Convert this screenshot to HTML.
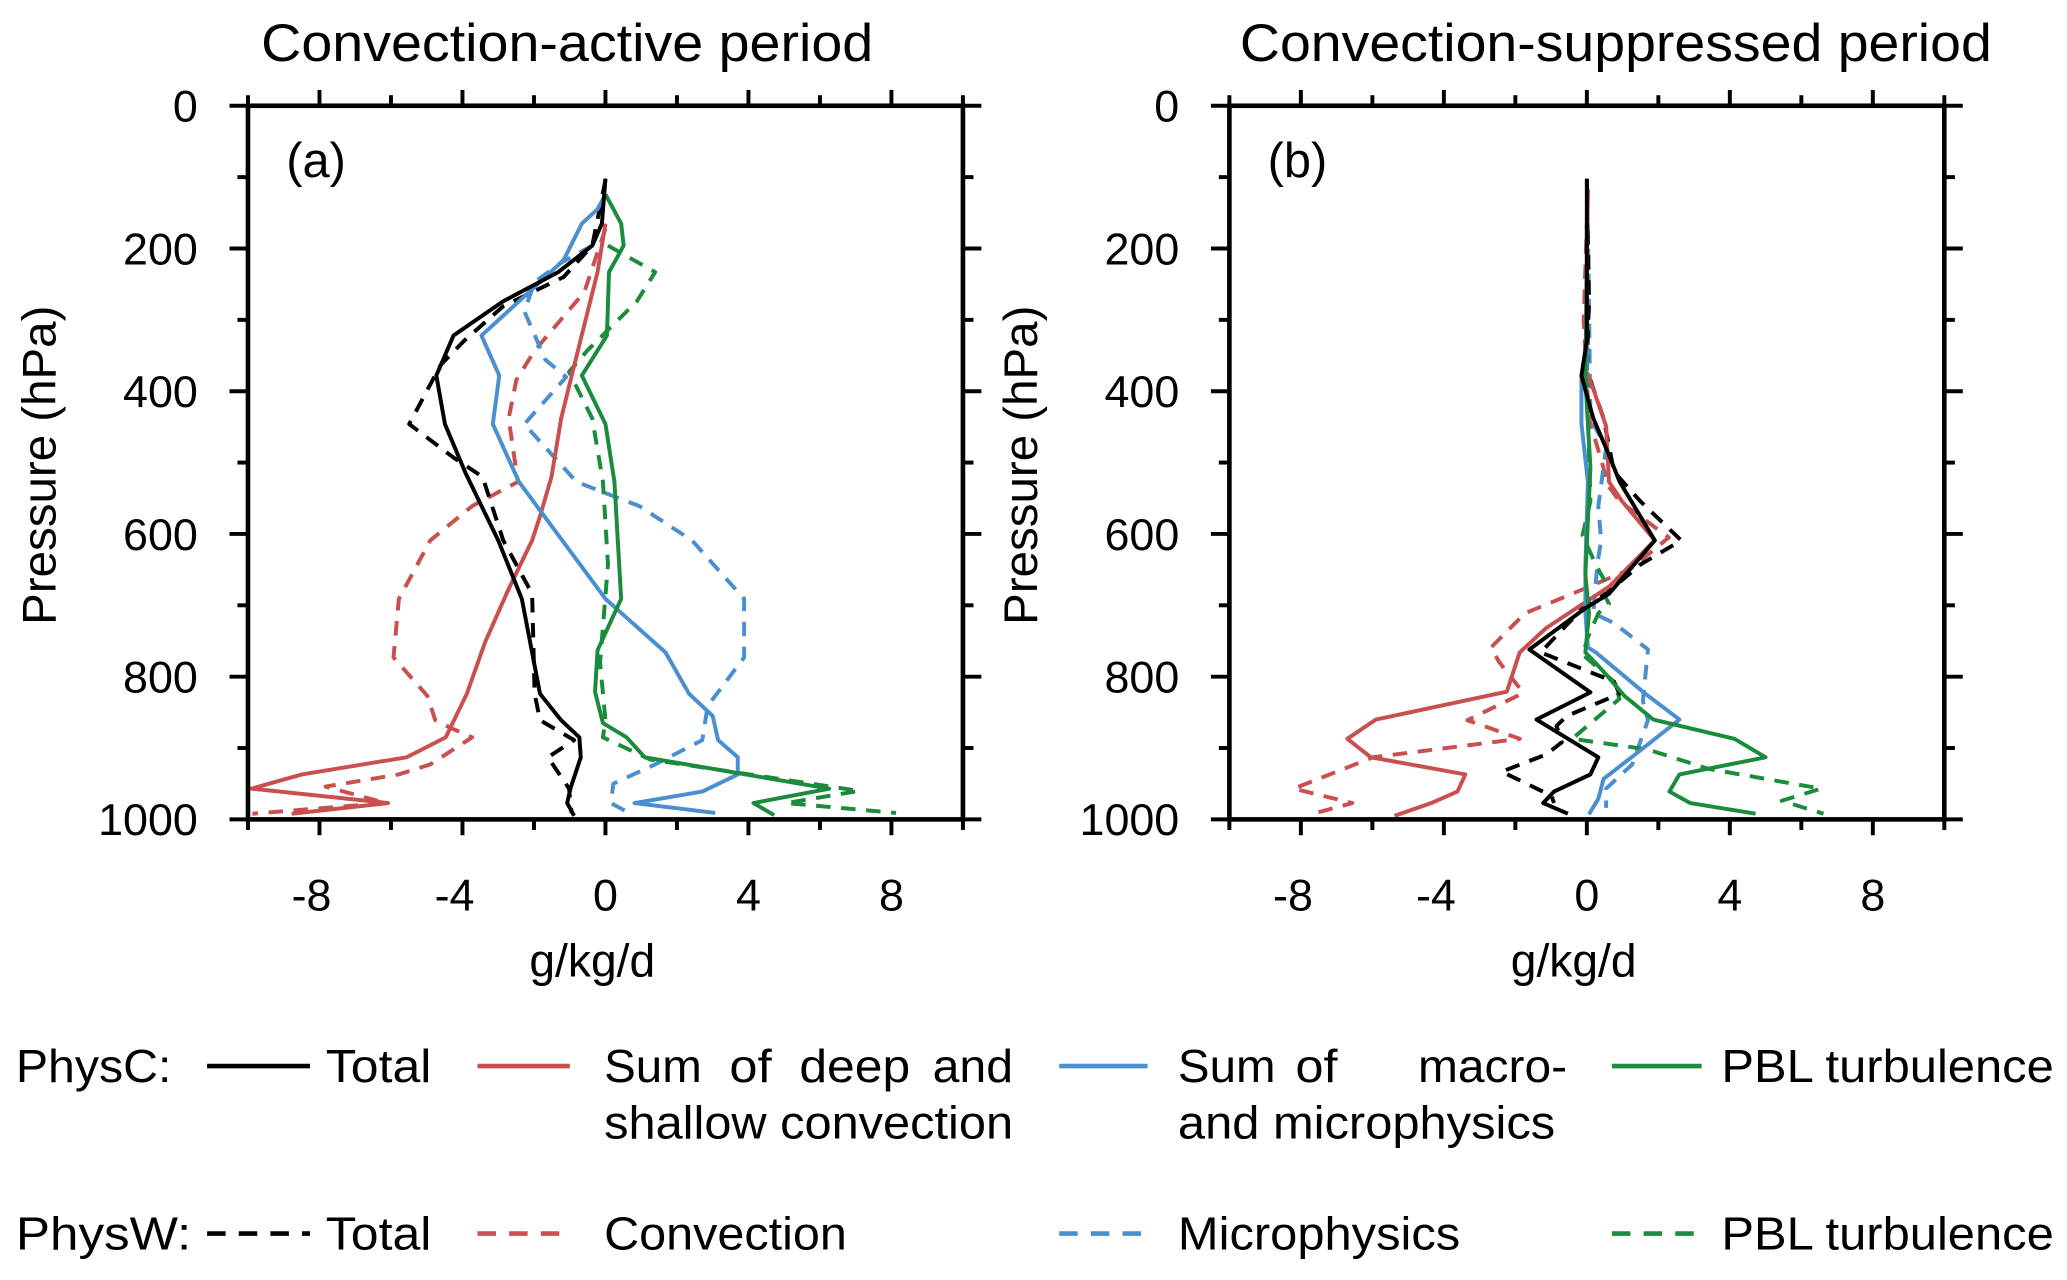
<!DOCTYPE html>
<html><head><meta charset="utf-8"><style>
html,body{margin:0;padding:0;background:#fff}
svg{display:block}
text{font-family:"Liberation Sans",sans-serif;fill:#000}
</style></head><body>
<svg id="fig" width="2067" height="1280" viewBox="0 0 1567 970" xmlns="http://www.w3.org/2000/svg">
<g id="pa"></g>
<g id="pb"></g>
<g id="legend">
 <text x="12" y="820" font-size="35" textLength="118" lengthAdjust="spacingAndGlyphs">PhysC:</text>
 <line x1="157" y1="808" x2="235" y2="808" stroke="#000" stroke-width="3.5"/>
 <text x="247" y="820" font-size="35" textLength="80" lengthAdjust="spacingAndGlyphs">Total</text>
 <line x1="362" y1="808" x2="432" y2="808" stroke="#c9504f" stroke-width="3.5"/>
 <g font-size="35">
  <text x="458" y="820" textLength="74" lengthAdjust="spacingAndGlyphs">Sum</text>
  <text x="553" y="820" textLength="32" lengthAdjust="spacingAndGlyphs">of</text>
  <text x="606" y="820" textLength="84" lengthAdjust="spacingAndGlyphs">deep</text>
  <text x="707" y="820" textLength="61" lengthAdjust="spacingAndGlyphs">and</text>
 </g>
 <text x="458" y="863" font-size="35" textLength="310" lengthAdjust="spacingAndGlyphs">shallow convection</text>
 <line x1="803" y1="808" x2="870" y2="808" stroke="#4a8fd0" stroke-width="3.5"/>
 <g font-size="35">
  <text x="893" y="820" textLength="74" lengthAdjust="spacingAndGlyphs">Sum</text>
  <text x="982" y="820" textLength="32" lengthAdjust="spacingAndGlyphs">of</text>
  <text x="1075" y="820" textLength="113" lengthAdjust="spacingAndGlyphs">macro-</text>
 </g>
 <text x="893" y="863" font-size="35" textLength="286" lengthAdjust="spacingAndGlyphs">and microphysics</text>
 <line x1="1222" y1="808" x2="1290" y2="808" stroke="#1a8c3c" stroke-width="3.5"/>
 <text x="1305" y="820" font-size="35" textLength="252" lengthAdjust="spacingAndGlyphs">PBL turbulence</text>

 <text x="12" y="947" font-size="35" textLength="133" lengthAdjust="spacingAndGlyphs">PhysW:</text>
 <line x1="157" y1="935" x2="235" y2="935" stroke="#000" stroke-width="3.5" stroke-dasharray="14,10"/>
 <text x="247" y="947" font-size="35" textLength="80" lengthAdjust="spacingAndGlyphs">Total</text>
 <line x1="362" y1="935" x2="432" y2="935" stroke="#c9504f" stroke-width="3.5" stroke-dasharray="14,10"/>
 <text x="458" y="947" font-size="35" textLength="184" lengthAdjust="spacingAndGlyphs">Convection</text>
 <line x1="803" y1="935" x2="870" y2="935" stroke="#4a8fd0" stroke-width="3.5" stroke-dasharray="14,10"/>
 <text x="893" y="947" font-size="35" textLength="214" lengthAdjust="spacingAndGlyphs">Microphysics</text>
 <line x1="1222" y1="935" x2="1290" y2="935" stroke="#1a8c3c" stroke-width="3.5" stroke-dasharray="14,10"/>
 <text x="1305" y="947" font-size="35" textLength="252" lengthAdjust="spacingAndGlyphs">PBL turbulence</text>
</g>
</svg>
<script>
const xTicks = [-8, -4, 0, 4, 8];
const yTicks = [0, 200, 400, 600, 800, 1000];
// Panel a
const aTotC_p = [102,165,196,233,274,322,378,446,515,609,691,824,861,885,913,957,977,995];
const aTotC_v = [0,-0.1,-0.37,-1.32,-2.86,-4.25,-4.73,-4.49,-3.91,-3.0,-2.34,-1.83,-1.24,-0.73,-0.69,-0.98,-1.07,-0.88];
const aTotW_p = [104,196,240,281,329,363,446,493,520,609,684,824,861,889,913,957,991];
const aTotW_v = [0,-0.37,-1.17,-2.86,-3.95,-4.61,-5.49,-4.25,-3.44,-2.86,-2.05,-1.98,-1.83,-0.88,-1.61,-1.02,-0.95];
const aConvC_p = [165,233,315,438,520,575,609,677,752,824,885,913,937,957,977,992];
const aConvC_v = [0,-0.22,-0.63,-1.24,-1.51,-1.83,-2.05,-2.71,-3.37,-3.88,-4.47,-5.56,-8.49,-9.9,-6.08,-8.78];
const aConvW_p = [172,261,343,384,438,527,561,609,691,773,827,861,872,885,923,937,954,977,992];
const aConvW_v = [0,-0.59,-1.98,-2.49,-2.71,-2.45,-3.73,-4.9,-5.78,-5.93,-4.98,-4.76,-4.32,-3.73,-4.9,-5.78,-7.83,-6.15,-9.88];
const aMicC_p = [124,145,165,216,254,322,378,446,527,691,766,824,855,889,913,937,961,977,991];
const aMicC_v = [0,-0.22,-0.66,-1.17,-1.98,-3.47,-2.97,-3.15,-2.42,0,1.68,2.34,3.0,3.15,3.7,3.7,2.71,0.81,3.07];
const aMicW_p = [196,220,247,288,356,380,446,527,561,609,691,773,841,889,923,950,977,991];
const aMicW_v = [-0.37,-1.24,-1.98,-2.27,-1.68,-1.1,-2.27,-0.81,0.95,2.42,3.88,3.88,2.86,2.71,1.39,0.22,0.15,0.66];
const aPblC_p = [124,165,196,233,322,378,446,527,691,763,821,865,885,913,957,977,994];
const aPblC_v = [0,0.44,0.51,0.1,0.04,-0.66,0,0.25,0.44,-0.22,-0.29,-0.07,0.59,1.1,6.26,4.14,4.72];
const aPblW_p = [196,233,274,343,373,438,527,643,780,861,885,916,960,977,991];
const aPblW_v = [0.07,1.39,0.88,-0.51,-1.02,-0.37,-0.07,0.07,-0.15,0,-0.07,1.25,7.1,5.05,8.13];
// Panel b
const bTotC_p = [102,233,329,378,438,486,527,609,684,704,762,822,860,913,937,961,977,992];
const bTotC_v = [0,0,0,-0.15,0.18,0.59,0.92,1.9,0.62,-0.04,-1.61,0.1,-1.41,0.32,0.1,-0.92,-1.22,-0.53];
const bTotW_p = [104,268,370,438,513,554,609,643,684,704,766,807,824,855,869,892,909,933,967,977];
const bTotW_v = [0,0.06,0,0.47,0.76,1.49,2.64,1.49,0.54,-0.12,-1.29,0.76,0.91,-0.56,-0.85,-0.7,-1.14,-2.38,-0.99,-0.92];
const bConvC_p = [117,370,397,449,527,554,609,674,732,766,821,860,887,913,937,961,977,995];
const bConvC_v = [0.03,-0.04,0.18,0.54,0.62,0.98,1.9,0.62,-1.14,-1.88,-2.24,-5.9,-6.7,-6.04,-3.4,-3.62,-4.35,-5.38];
const bConvW_p = [117,302,438,534,554,605,650,684,711,759,779,821,827,861,887,913,957,977,992];
const bConvW_v = [0.03,-0.09,0.06,0.62,0.91,2.29,1.19,-0.41,-1.73,-2.68,-2.46,-1.8,-1.95,-3.34,-1.88,-5.98,-8.2,-6.56,-7.66];
const bMicC_p = [165,370,378,446,527,643,711,759,766,824,860,909,943,971,993];
const bMicC_v = [0,0,-0.15,-0.15,0.03,-0.04,-0.04,0.03,0.25,1.64,2.59,1.35,0.47,0.32,0.06];
const bMicW_p = [165,438,479,561,609,643,711,725,762,834,861,923,957,984];
const bMicW_v = [0.03,0.1,0.54,0.32,0.4,0.29,0.18,0.76,1.71,1.57,1.71,1.27,0.54,0.54];
const bPblC_p = [233,384,507,657,711,766,793,827,860,887,913,937,961,977,992];
const bPblC_v = [0,-0.04,0.1,-0.04,0.06,-0.04,0.47,1.05,1.86,4.13,5.0,2.59,2.31,2.89,4.72];
const bPblW_p = [233,438,554,602,643,663,677,698,711,745,769,807,831,887,902,929,957,974,992];
const bPblW_v = [0,0.03,0.1,-0.12,0.25,0.47,0.4,0.62,0.32,0.03,-0.12,0.76,0.91,-0.41,1.71,3.39,6.55,5.45,6.62];

const NS = 'http://www.w3.org/2000/svg';
const COL = {tot:'#000', conv:'#c9504f', mic:'#4a8fd0', pbl:'#1a8c3c'};
function mk(parent, tag, attrs){ const e=document.createElementNS(NS,tag); for(const k in attrs) e.setAttribute(k,attrs[k]); parent.appendChild(e); return e; }

function panel(g, left, title, titleX, titleW, label, series){
  const right = left + 542, top = 80, bottom = 621;
  const xs = v => left + (v + 10) / 20 * (right - left);
  const ys = p => top + p / 1000 * (bottom - top);
  const t = mk(g,'text',{x:titleX, y:46, 'font-size':40, 'text-anchor':'middle', textLength:titleW, lengthAdjust:'spacingAndGlyphs'});
  t.textContent = title;
  
  
  const lb = mk(g,'text',{x:left+29, y:top+54, 'font-size':37});
  lb.textContent = label;
  
  
  series.forEach(s=>{
    const pts = s.p.map((p,i)=>xs(s.v[i]).toFixed(1)+','+ys(p).toFixed(1)).join(' ');
    const pl = mk(g,'polyline',{points:pts, fill:'none', stroke:COL[s.c], 'stroke-width':3, 'stroke-linejoin':'round'});
    if(s.d) pl.setAttribute('stroke-dasharray','11,8');
    
    
  });
  const fr = mk(g,'rect',{x:left,y:top,width:right-left,height:bottom-top,fill:'none',stroke:'#000','stroke-width':3.5});
  
  
  for(let v=-10; v<=10; v+=2){
    const x = xs(v);
    const isMaj = (v===-8||v===-4||v===0||v===4||v===8);
    const len = isMaj ? 12 : 8;
    const tk = mk(g,'line',{x1:x,y1:top-len,x2:x,y2:top,stroke:'#000','stroke-width':3});
    
    
    const tb = mk(g,'line',{x1:x,y1:bottom,x2:x,y2:bottom+len,stroke:'#000','stroke-width':3});
    
    
  }
  xTicks.forEach(v=>{
    const tl = mk(g,'text',{x:xs(v)-(v<0?6:0), y:690, 'font-size':34, 'text-anchor':'middle'});
    tl.textContent = String(v);
    
    
  });
  const xt = mk(g,'text',{x:(left+right)/2-10, y:740, 'font-size':35, 'text-anchor':'middle'});
  xt.textContent = 'g/kg/d';
  
  
  for(let p=0; p<=1000; p+=100){
    const y = ys(p);
    const isMaj = p % 200 === 0;
    const a = mk(g,'line',{x1:left-(isMaj?14:8),y1:y,x2:left,y2:y,stroke:'#000','stroke-width':3});
    
    
    const b = mk(g,'line',{x1:right,y1:y,x2:right+(isMaj?14:8),y2:y,stroke:'#000','stroke-width':3});
    
    
  }
  yTicks.forEach(p=>{
    const tl = mk(g,'text',{x:left-38, y:ys(p)+12, 'font-size':34, 'text-anchor':'end'});
    tl.textContent = String(p);
    
    
  });
  const yt = mk(g,'text',{x:0,y:0,'font-size':36,'text-anchor':'middle',transform:`translate(${left-146},${(top+bottom)/2+2}) rotate(-90)`});
  yt.textContent = 'Pressure (hPa)';
  
  
}

panel(document.getElementById('pa'), 188, 'Convection-active period', 430, 464, '(a)', [
  {p:aConvW_p,v:aConvW_v,c:'conv',d:1,name:'a-physw-convection'},
  {p:aMicW_p,v:aMicW_v,c:'mic',d:1,name:'a-physw-microphysics'},
  {p:aPblW_p,v:aPblW_v,c:'pbl',d:1,name:'a-physw-pbl'},
  {p:aTotW_p,v:aTotW_v,c:'tot',d:1,name:'a-physw-total'},
  {p:aConvC_p,v:aConvC_v,c:'conv',d:0,name:'a-physc-convection'},
  {p:aMicC_p,v:aMicC_v,c:'mic',d:0,name:'a-physc-microphysics'},
  {p:aPblC_p,v:aPblC_v,c:'pbl',d:0,name:'a-physc-pbl'},
  {p:aTotC_p,v:aTotC_v,c:'tot',d:0,name:'a-physc-total'}
]);
panel(document.getElementById('pb'), 932, 'Convection-suppressed period', 1225, 570, '(b)', [
  {p:bConvW_p,v:bConvW_v,c:'conv',d:1,name:'b-physw-convection'},
  {p:bMicW_p,v:bMicW_v,c:'mic',d:1,name:'b-physw-microphysics'},
  {p:bPblW_p,v:bPblW_v,c:'pbl',d:1,name:'b-physw-pbl'},
  {p:bTotW_p,v:bTotW_v,c:'tot',d:1,name:'b-physw-total'},
  {p:bConvC_p,v:bConvC_v,c:'conv',d:0,name:'b-physc-convection'},
  {p:bMicC_p,v:bMicC_v,c:'mic',d:0,name:'b-physc-microphysics'},
  {p:bPblC_p,v:bPblC_v,c:'pbl',d:0,name:'b-physc-pbl'},
  {p:bTotC_p,v:bTotC_v,c:'tot',d:0,name:'b-physc-total'}
]);
</script>
</body></html>
